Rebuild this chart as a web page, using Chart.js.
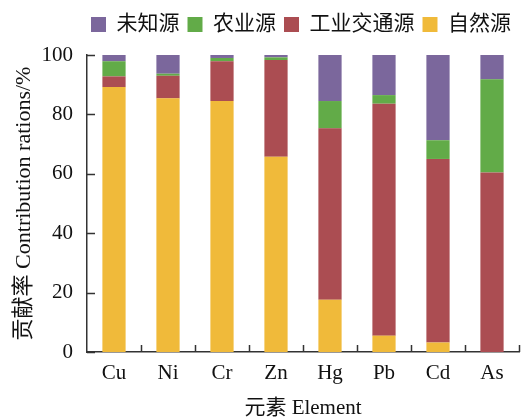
<!DOCTYPE html>
<html>
<head>
<meta charset="utf-8">
<script src="https://cdn.jsdelivr.net/npm/chart.js@4"></script>
<style>
  html, body { margin: 0; padding: 0; background: #fff; }
  #wrap { width: 528px; height: 417px; }
</style>
</head>
<body>
<div id="wrap"><canvas id="c" width="528" height="417"></canvas></div>
<script>
// Elements and source contributions (%), stacked bottom to top
const elements = ['Cu', 'Ni', 'Cr', 'Zn', 'Hg', 'Pb', 'Cd', 'As'];
const natural    = [89.2, 85.4, 84.5, 65.7, 17.6,  5.5,  3.2,  0.0];
const industrial = [ 3.6,  7.6, 13.4, 32.6, 57.7, 78.1, 61.8, 60.4];
const agri       = [ 5.1,  0.7,  1.1,  0.9,  9.2,  2.9,  6.3, 31.4];
const unknown    = [ 2.1,  6.3,  1.0,  0.8, 15.5, 13.5, 28.7,  8.2];
const yTicks = [0, 20, 40, 60, 80, 100];

const FONT = "'Liberation Serif', 'Times New Roman', 'Noto Sans CJK SC', serif";
const AXIS = '#333333';

// Short inward tick marks on both axes
const inwardTicks = {
  id: 'inwardTicks',
  afterDraw(chart) {
    const { ctx, scales: { x, y } } = chart;
    ctx.save();
    ctx.strokeStyle = AXIS;
    ctx.lineWidth = 1.5;
    ctx.beginPath();
    const n = x.ticks.length;
    const step = (x.right - x.left) / n;
    for (let i = 1; i <= n; i++) {
      const px = Math.round(x.left + i * step) + 0.5;
      ctx.moveTo(px, y.bottom);
      ctx.lineTo(px, y.bottom - 7);
    }
    yTicks.forEach(v => {
      const py = Math.round(y.getPixelForValue(v)) + 0.5;
      ctx.moveTo(x.left, py);
      ctx.lineTo(x.left + 8, py);
    });
    ctx.stroke();
    ctx.restore();
  }
};

// Extra room between the legend row and the plot
const legendGap = {
  id: 'legendGap',
  beforeInit(chart) {
    const origFit = chart.legend.fit;
    chart.legend.fit = function () {
      origFit.call(this);
      this.height += 10;
    };
  }
};

new Chart(document.getElementById('c'), {
  type: 'bar',
  data: {
    labels: elements,
    datasets: [
      { label: '自然源', data: natural, backgroundColor: '#F0BA3A' },
      { label: '工业交通源', data: industrial, backgroundColor: '#AB4D52' },
      { label: '农业源', data: agri, backgroundColor: '#62AB48' },
      { label: '未知源', data: unknown, backgroundColor: '#7B679C' }
    ]
  },
  options: {
    responsive: false,
    animation: false,
    devicePixelRatio: 1,
    layout: { padding: { left: 8, right: 9, top: 6, bottom: 0 } },
    datasets: { bar: { categoryPercentage: 1, barPercentage: 0.43, borderWidth: 0 } },
    plugins: {
      tooltip: { enabled: false },
      legend: {
        position: 'top',
        align: 'end',
        reverse: true,
        labels: {
          font: { family: FONT, size: 21 },
          color: '#111',
          boxWidth: 15,
          boxHeight: 15,
          padding: 8
        }
      }
    },
    scales: {
      x: {
        stacked: true,
        afterFit(scale) { scale.height = 65; },
        grid: { display: false },
        border: { display: true, color: AXIS, width: 1.5 },
        ticks: { font: { family: FONT, size: 21 }, color: '#111', padding: 1 },
        title: { display: true, text: '元素 Element', font: { family: FONT, size: 21, lineHeight: 0.8 }, color: '#111', padding: { top: 0, bottom: 0 } }
      },
      y: {
        stacked: true,
        min: 0, max: 100,
        afterBuildTicks(scale) { scale.ticks = yTicks.map(v => ({ value: v })); },
        afterFit(scale) { scale.width = 79; },
        grid: { display: false },
        border: { display: true, color: AXIS, width: 1.5 },
        ticks: { font: { family: FONT, size: 21 }, color: '#111', padding: 6 },
        title: { display: true, text: '贡献率 Contribution rations/%', font: { family: FONT, size: 22 }, color: '#111', padding: { top: 3, bottom: 0 } }
      }
    }
  },
  plugins: [inwardTicks, legendGap]
});
</script>
</body>
</html>
